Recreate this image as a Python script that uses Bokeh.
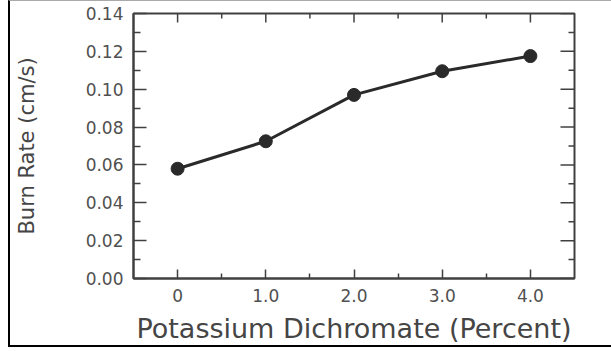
from bokeh.plotting import figure
from bokeh.models import Range1d, FixedTicker, NumeralTickFormatter
from bokeh.embed import file_html
from bokeh.resources import INLINE

# Data
dichromate_pct = [0, 1.0, 2.0, 3.0, 4.0]
burn_rate = [0.058, 0.0725, 0.097, 0.1095, 0.1175]
x_tick_values = [0, 1, 2, 3, 4]
x_tick_labels = ["0", "1.0", "2.0", "3.0", "4.0"]
x_minor_values = [0.5, 1.5, 2.5, 3.5]
y_tick_values = [0.0, 0.02, 0.04, 0.06, 0.08, 0.10, 0.12, 0.14]
y_minor_values = [0.01, 0.03, 0.05, 0.07, 0.09, 0.11, 0.13]
x_lo, x_hi = -0.5, 4.5
y_lo, y_hi = 0.0, 0.14

FONT = "DejaVu Sans"
AX = "#404040"
TXT = "#505050"

p = figure(width=603, height=347, x_range=Range1d(x_lo, x_hi), y_range=Range1d(y_lo, y_hi),
           output_backend="svg", toolbar_location=None,
           min_border_left=123, min_border_right=39, min_border_top=12, min_border_bottom=70,
           x_axis_label="Potassium Dichromate (Percent)", y_axis_label="Burn Rate (cm/s)",
           styles={"margin-left": "8px", "border-left": "2px solid black",
                   "border-bottom": "2px solid black", "border-top": "1px solid #aaaaaa"})
p.background_fill_color = "white"
p.border_fill_color = "white"
p.xgrid.visible = False
p.ygrid.visible = False
p.outline_line_color = AX
p.outline_line_width = 2

xa = p.xaxis[0]
xa.ticker = FixedTicker(ticks=x_tick_values, minor_ticks=x_minor_values)
xa.major_label_overrides = {v: l for v, l in zip(x_tick_values, x_tick_labels)}
xa.major_tick_in = 9
xa.major_tick_out = 0
xa.minor_tick_in = 5
xa.minor_tick_out = 0
xa.major_label_standoff = 10
xa.axis_label_standoff = 8

ya = p.yaxis[0]
ya.ticker = FixedTicker(ticks=y_tick_values, minor_ticks=y_minor_values)
ya.formatter = NumeralTickFormatter(format="0.00")
ya.major_tick_in = 13
ya.major_tick_out = 0
ya.minor_tick_in = 7
ya.minor_tick_out = 0
ya.major_label_standoff = 10
ya.axis_label_standoff = 44

for a in (xa, ya):
    a.axis_line_color = AX
    a.axis_line_width = 2
    a.major_tick_line_color = AX
    a.minor_tick_line_color = AX
    a.major_tick_line_width = 1.5
    a.minor_tick_line_width = 1.5
    a.major_label_text_font = FONT
    a.major_label_text_font_size = "17px"
    a.major_label_text_color = TXT
    a.axis_label_text_font = FONT
    a.axis_label_text_font_style = "normal"
    a.axis_label_text_color = "#454545"

xa.axis_label_text_font_size = "27px"
ya.axis_label_text_font_size = "21px"

# inward ticks on the top and right edges of the frame
n_x = len(x_tick_values)
n_xm = len(x_minor_values)
n_y = len(y_tick_values)
n_ym = len(y_minor_values)
p.ray(x=x_tick_values, y=[y_hi] * n_x, length=9, length_units="screen", angle=-90,
      angle_units="deg", line_color=AX, line_width=1.5)
p.ray(x=x_minor_values, y=[y_hi] * n_xm, length=5, length_units="screen", angle=-90,
      angle_units="deg", line_color=AX, line_width=1.5)
p.ray(x=[x_hi] * n_y, y=y_tick_values, length=14, length_units="screen", angle=180,
      angle_units="deg", line_color=AX, line_width=1.5)
p.ray(x=[x_hi] * n_ym, y=y_minor_values, length=6, length_units="screen", angle=180,
      angle_units="deg", line_color=AX, line_width=1.5)

p.line(dichromate_pct, burn_rate, line_color="#2a2a2a", line_width=3)
p.scatter(dichromate_pct, burn_rate, size=13, fill_color="#2a2a2a", line_color="#2a2a2a")

open("out.html", "w").write(file_html(p, INLINE))
